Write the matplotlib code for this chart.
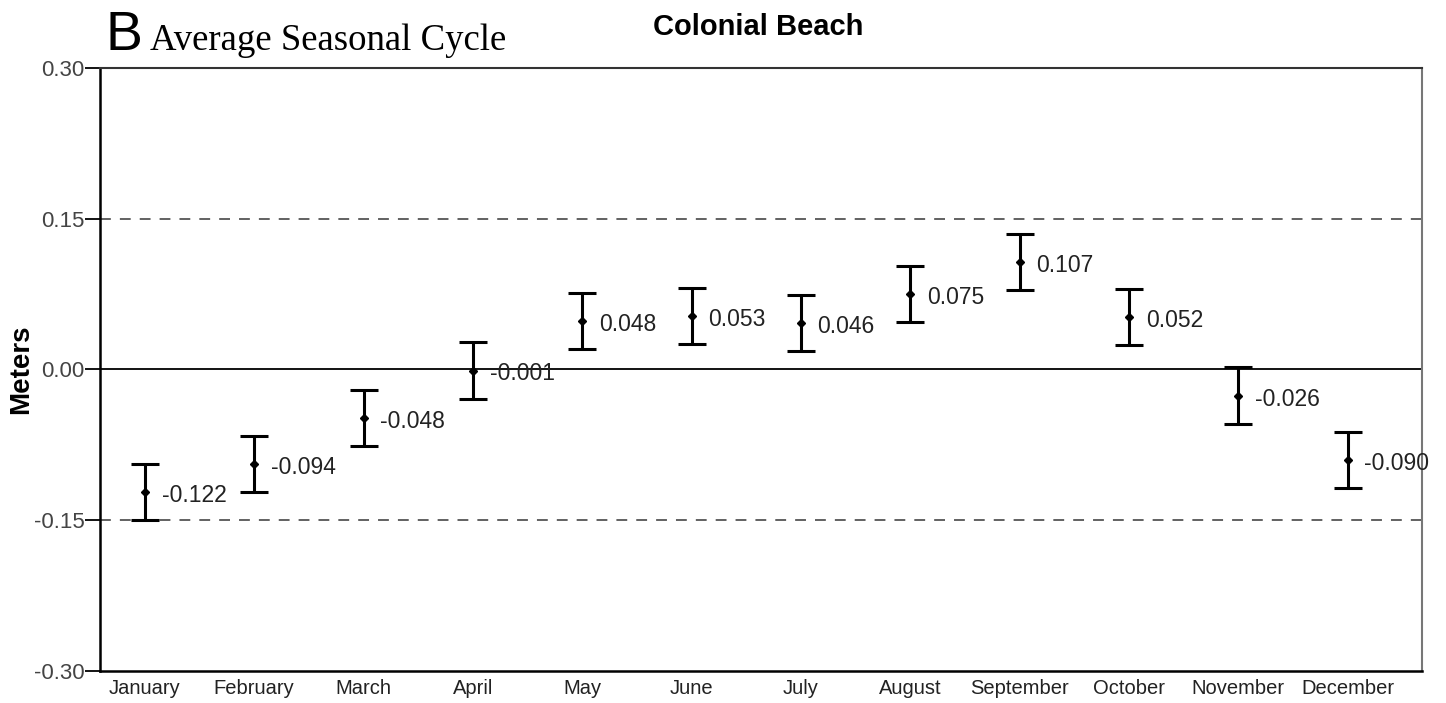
import numpy as np
import matplotlib.pyplot as plt

# monthly means and error half-widths (meters)
months = ['January', 'February', 'March', 'April', 'May', 'June', 'July',
          'August', 'September', 'October', 'November', 'December']
means = [-0.122, -0.094, -0.048, -0.001, 0.048, 0.053, 0.046, 0.075, 0.107, 0.052, -0.026, -0.090]
errs = [0.028, 0.028, 0.028, 0.028, 0.028, 0.028, 0.028, 0.028, 0.028, 0.028, 0.028, 0.028]
yticks = [-0.30, -0.15, 0.00, 0.15, 0.30]

plt.rcParams['font.family'] = ['Liberation Sans', 'DejaVu Sans']

fig = plt.figure(figsize=(14.46, 7.03), dpi=100)
ax = fig.add_axes([0.0692, 0.0455, 0.9142, 0.8578])

x = np.arange(len(months))
ax.errorbar(x, means, yerr=errs, fmt='D', color='black', ms=4.5,
            elinewidth=2.2, capsize=10, capthick=2.2, zorder=3)

for xi, m in zip(x, means):
    ax.annotate(f'{m:.3f}', (xi, m), xytext=(12, -2.5), textcoords='offset points',
                ha='left', va='center', fontsize=16.5, color='#222222', zorder=4)

ax.axhline(0, color='black', lw=1.3, zorder=1)
for v in (0.15, -0.15):
    ax.axhline(v, color='#555555', lw=1.3, ls=(0, (6, 5)), zorder=1)

ax.set_xlim(-0.41, 11.68)
ax.set_ylim(-0.30, 0.30)
ax.set_xticks(x)
ax.set_xticklabels(months, fontsize=14.5, color='#222222')
ax.set_yticks(yticks)
ax.set_yticklabels([f'{v:.2f}' for v in yticks], fontsize=16, color='#444444')
ax.tick_params(axis='x', length=0, pad=6)
ax.tick_params(axis='y', length=11, width=1.3, pad=0)

for s in ('left', 'bottom'):
    ax.spines[s].set_linewidth(1.8)
    ax.spines[s].set_color('black')
ax.spines['top'].set_linewidth(1.5)
ax.spines['top'].set_color('#333333')
ax.spines['right'].set_linewidth(1.5)
ax.spines['right'].set_color('#777777')

ax.set_ylabel('Meters', fontsize=20, fontweight='bold', labelpad=0)
fig.text(0.524, 0.961, 'Colonial Beach', ha='center', va='center',
         fontsize=21, fontweight='bold')
fig.text(0.073, 0.929, 'B', ha='left', va='baseline', fontsize=40,
         family=['Liberation Sans'], fontweight='normal')
fig.text(0.104, 0.929, 'Average Seasonal Cycle', ha='left', va='baseline',
         fontsize=26.5, family=['Liberation Serif'])

fig.savefig('out.png', dpi=100)
